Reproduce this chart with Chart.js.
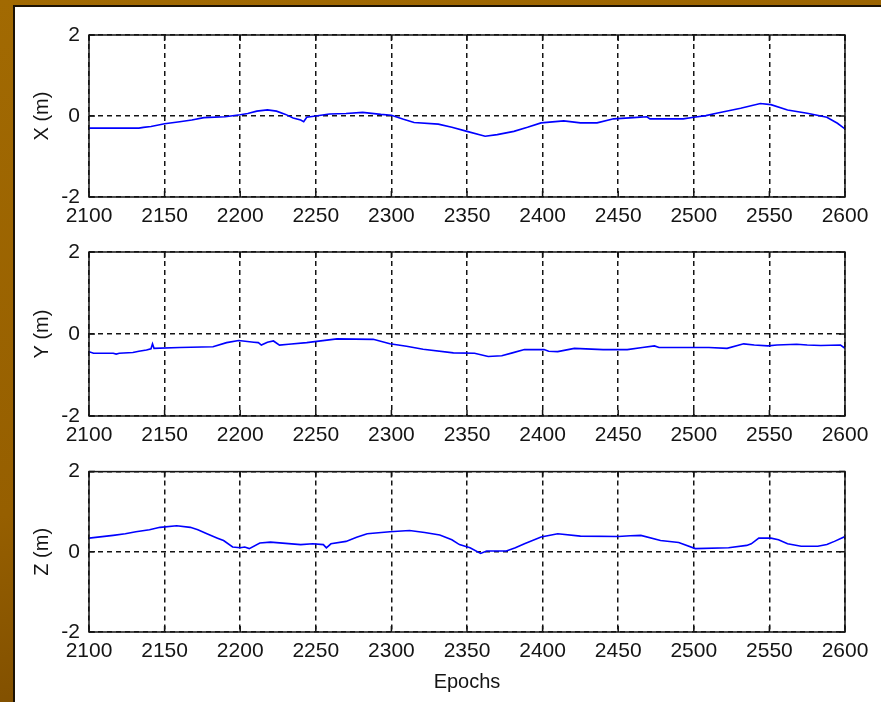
<!DOCTYPE html>
<html>
<head>
<meta charset="utf-8">
<script src="https://cdn.jsdelivr.net/npm/chart.js@4.4.1/dist/chart.umd.min.js"></script>
<style>
  html, body { margin: 0; padding: 0; }
  body {
    width: 881px; height: 702px; overflow: hidden; position: relative;
    background: linear-gradient(165deg, #a26a02 0%, #965f00 55%, #6a3f00 100%);
  }
  #sheet {
    position: absolute; left: 13px; top: 5px; right: 0; bottom: 0;
    background: #fff; border-left: 2px solid #1c1204; border-top: 2px solid #1c1204;
  }
  canvas { position: absolute; left: 0; }
</style>
</head>
<body>
<div id="sheet"></div>
<canvas id="chartX" width="881" height="230" style="top:0"></canvas>
<canvas id="chartY" width="881" height="220" style="top:230px"></canvas>
<canvas id="chartZ" width="881" height="252" style="top:450px"></canvas>
<script>
// epoch axis / value axis
const epochTicks = [2100, 2150, 2200, 2250, 2300, 2350, 2400, 2450, 2500, 2550, 2600];
const metreTicks = [-2, 0, 2];

// X component (m)
const xEpochs = [2100, 2133, 2136, 2141, 2150, 2160, 2168, 2176, 2190, 2200, 2205, 2211, 2218, 2224, 2230,
  2235, 2240, 2242, 2244, 2250, 2259, 2270, 2281, 2293, 2300, 2308, 2315, 2331, 2340, 2350, 2362, 2370,
  2381, 2390, 2399, 2414, 2425, 2436, 2447, 2460, 2469, 2471, 2493, 2500, 2508, 2515, 2531, 2544, 2551,
  2562, 2575, 2588, 2595, 2600];
const xValues = [-0.30, -0.30, -0.28, -0.26, -0.19, -0.14, -0.10, -0.04, -0.02, 0.03, 0.06, 0.12, 0.15, 0.12, 0.04,
  -0.05, -0.10, -0.14, -0.03, 0.00, 0.05, 0.06, 0.09, 0.04, 0.02, -0.08, -0.16, -0.20, -0.28, -0.38, -0.50, -0.46,
  -0.38, -0.28, -0.17, -0.12, -0.17, -0.17, -0.07, -0.04, -0.02, -0.07, -0.07, -0.03, 0.01, 0.07, 0.19, 0.31, 0.28,
  0.15, 0.07, -0.03, -0.18, -0.32];

// Y component (m)
const yEpochs = [2100, 2103, 2116, 2118, 2120, 2129, 2133, 2138, 2141, 2142, 2143, 2160, 2182, 2191, 2199,
  2209, 2212, 2214, 2218, 2222, 2226, 2232, 2244, 2264, 2288, 2299, 2310, 2321, 2341, 2355, 2364, 2373,
  2380, 2388, 2401, 2404, 2410, 2421, 2440, 2456, 2466, 2474, 2477, 2487, 2510, 2522, 2533, 2540, 2549,
  2555, 2568, 2575, 2584, 2597, 2600];
const yValues = [-0.43, -0.47, -0.47, -0.49, -0.47, -0.45, -0.42, -0.39, -0.36, -0.24, -0.35, -0.33, -0.31, -0.21, -0.16,
  -0.20, -0.21, -0.27, -0.20, -0.17, -0.27, -0.25, -0.21, -0.12, -0.13, -0.24, -0.30, -0.37, -0.46, -0.47, -0.55, -0.53,
  -0.46, -0.38, -0.38, -0.42, -0.43, -0.35, -0.38, -0.38, -0.33, -0.29, -0.33, -0.33, -0.33, -0.35, -0.24, -0.27, -0.29,
  -0.27, -0.25, -0.27, -0.28, -0.27, -0.35];

// Z component (m)
const zEpochs = [2100, 2116, 2124, 2131, 2140, 2147, 2158, 2167, 2172, 2178, 2185, 2189, 2195, 2200, 2203,
  2206, 2213, 2220, 2240, 2248, 2255, 2257, 2260, 2270, 2277, 2284, 2299, 2312, 2322, 2332, 2340, 2345,
  2352, 2359, 2363, 2376, 2382, 2388, 2399, 2410, 2425, 2450, 2458, 2465, 2478, 2490, 2501, 2523, 2535,
  2538, 2543, 2551, 2556, 2562, 2571, 2582, 2588, 2593, 2600];
const zValues = [0.34, 0.41, 0.45, 0.50, 0.55, 0.61, 0.65, 0.61, 0.55, 0.45, 0.34, 0.28, 0.12, 0.10, 0.12,
  0.08, 0.22, 0.24, 0.18, 0.20, 0.18, 0.10, 0.20, 0.26, 0.36, 0.45, 0.50, 0.53, 0.48, 0.42, 0.30, 0.18,
  0.10, -0.04, 0.02, 0.02, 0.10, 0.20, 0.37, 0.45, 0.39, 0.38, 0.40, 0.41, 0.28, 0.23, 0.08, 0.10, 0.16,
  0.20, 0.34, 0.34, 0.30, 0.20, 0.14, 0.14, 0.18, 0.26, 0.38];

const FONT = { family: '"Liberation Sans", Arial, sans-serif', size: 21 };
const INK = '#141414';
const DASH = [5, 4];

// solid axes box plus short inward tick marks on all four sides
const boxPlugin = {
  id: 'axesBox',
  afterDraw(chart) {
    const { ctx, chartArea: a, scales } = chart;
    ctx.save();
    ctx.strokeStyle = INK;
    ctx.lineWidth = 1.5;
    ctx.setLineDash([]);
    ctx.strokeRect(a.left, a.top, a.right - a.left, a.bottom - a.top);
    ctx.beginPath();
    epochTicks.forEach(t => {
      const px = scales.x.getPixelForValue(t);
      ctx.moveTo(px, a.top); ctx.lineTo(px, a.top + 6);
      ctx.moveTo(px, a.bottom); ctx.lineTo(px, a.bottom - 6);
    });
    metreTicks.forEach(t => {
      const py = scales.y.getPixelForValue(t);
      ctx.moveTo(a.left, py); ctx.lineTo(a.left + 6, py);
      ctx.moveTo(a.right, py); ctx.lineTo(a.right - 6, py);
    });
    ctx.stroke();
    ctx.restore();
  }
};

function makePanel(id, epochs, values, label, opts) {
  const points = epochs.map((e, i) => ({ x: e, y: values[i] }));
  return new Chart(document.getElementById(id), {
    type: 'line',
    data: {
      datasets: [{
        data: points,
        borderColor: '#0000ff',
        borderWidth: 1.6,
        pointRadius: 0,
        tension: 0,
        fill: false
      }]
    },
    options: {
      responsive: false,
      animation: false,
      events: [],
      layout: { padding: { left: 30, right: 36, top: opts.top, bottom: 0 } },
      plugins: { legend: { display: false }, tooltip: { enabled: false } },
      scales: {
        x: {
          type: 'linear',
          min: 2100, max: 2600,
          afterBuildTicks: s => { s.ticks = epochTicks.map(v => ({ value: v })); },
          afterFit: s => { s.height = opts.xHeight; },
          // in v4 the grid line dash comes from border.dash
          border: { display: false, dash: DASH },
          grid: { color: INK, lineWidth: 1.5, drawTicks: false },
          ticks: {
            color: INK, font: FONT, padding: 7, maxRotation: 0, autoSkip: false,
            callback: v => String(v)
          },
          title: {
            display: !!opts.xTitle, text: opts.xTitle || '',
            color: INK, font: { family: FONT.family, size: 20 }, padding: { top: 0, bottom: 8 }
          }
        },
        y: {
          min: -2, max: 2,
          afterBuildTicks: s => { s.ticks = metreTicks.map(v => ({ value: v })); },
          afterFit: s => { s.width = 59; },
          border: { display: false, dash: DASH },
          grid: { color: INK, lineWidth: 1.5, drawTicks: false },
          ticks: { color: INK, font: FONT, padding: 9, callback: v => String(v) },
          title: {
            display: true, text: label, color: INK,
            font: { family: FONT.family, size: 20 }, padding: { top: 0, bottom: 0 }
          }
        }
      }
    },
    plugins: [boxPlugin]
  });
}

const panels = [
  makePanel('chartX', xEpochs, xValues, 'X (m)', { top: 35, xHeight: 33 }),
  makePanel('chartY', yEpochs, yValues, 'Y (m)', { top: 22, xHeight: 34 }),
  makePanel('chartZ', zEpochs, zValues, 'Z (m)', { top: 18, xHeight: 70, xTitle: 'Epochs' })
];
</script>
</body>
</html>
